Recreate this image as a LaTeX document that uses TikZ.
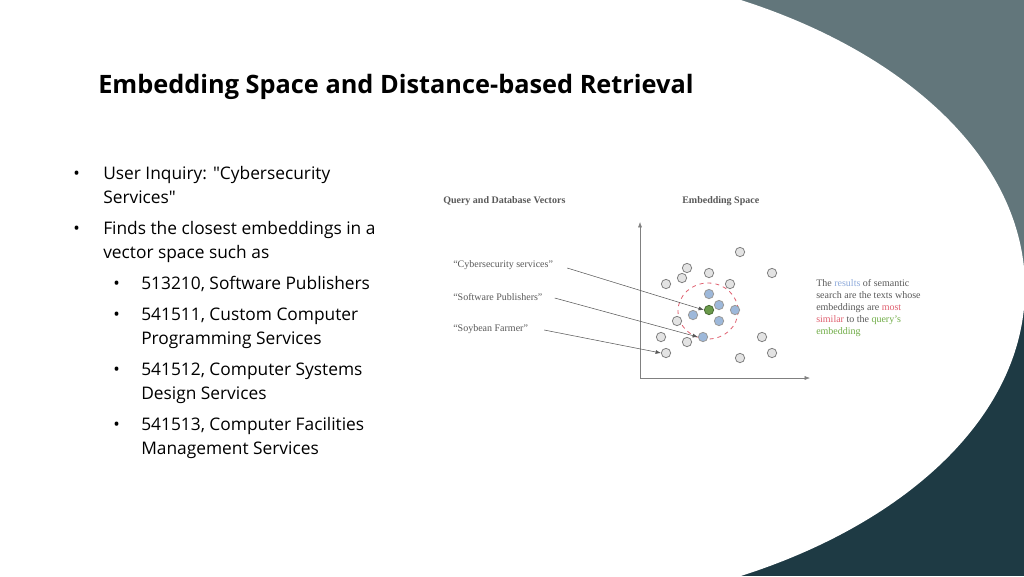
\documentclass[tikz,border=0pt]{standalone}
\usepackage{fontspec}
\setmainfont{Open Sans}
\newfontfamily\serifgr{Liberation Serif}
\usetikzlibrary{arrows.meta}
\definecolor{slate}{HTML}{62767B}
\definecolor{deepteal}{HTML}{1E3A44}
\definecolor{dotgrey}{HTML}{E3E3E3}
\definecolor{dotblue}{HTML}{9DB8DA}
\definecolor{dotgreen}{HTML}{6A9A4A}
\definecolor{txtgrey}{HTML}{595959}
\definecolor{resblue}{HTML}{8EAADB}
\definecolor{simred}{HTML}{E06070}
\definecolor{qgreen}{HTML}{70AD47}

\begin{document}
\begin{tikzpicture}
    [
    x=0.75pt, y=-0.75pt,
    pt/.style={circle,draw=gray,fill=dotgrey,inner sep=0pt,minimum size=7pt,line width=0.6pt},
    res/.style={pt,fill=dotblue,draw=gray!80},
    qry/.style={pt,fill=dotgreen,draw=dotgreen!70!black},
    lbl/.style={font=\serifgr\fontsize{7.5}{9}\selectfont,text=txtgrey,anchor=west,inner sep=0pt},
    hdr/.style={font=\serifgr\bfseries\fontsize{7.5}{9}\selectfont,text=txtgrey,anchor=west,inner sep=0pt},
    body/.style={font=\fontsize{13}{18}\selectfont,anchor=base west,inner sep=0pt},
    ]
    \useasboundingbox (0,0) rectangle (1024,576);
    % background
    \fill[slate] (690,0) rectangle (1024,300);
    \fill[deepteal] (690,300) rectangle (1024,576);
    \fill[white] (500,288) ellipse [x radius=525, y radius=324];

    % title and bullets
    \node (title) [anchor=base west,inner sep=0pt,font=\bfseries\fontsize{19}{22}\selectfont] at (98,93) {Embedding Space and Distance-based Retrieval};
    \node (b1) [body] at (73,179) {\textbullet};
    \node (t1) [body] at (103,179) {User Inquiry: \textquotedbl Cybersecurity};
    \node (t1b) [body] at (103,203) {Services\textquotedbl};
    \node (b2) [body] at (73,234) {\textbullet};
    \node (t2) [body] at (103,234) {Finds the closest embeddings in a};
    \node (t2b) [body] at (103,258) {vector space such as};
    \foreach \y/\a/\b [count=\i] in {289/{513210, Software Publishers}/{},
      320/{541511, Custom Computer}/{Programming Services},
      375/{541512, Computer Systems}/{Design Services},
      430/{541513, Computer Facilities}/{Management Services}} {
      \node (s\i) [body] at (113,\y) {\textbullet};
      \node (st\i) [body] at (141,\y) {\a};
      \node (su\i) [body] at (141,\y+24) {\b};
    }

    % diagram
    \node (hq) [hdr] at (443,201) {Query and Database Vectors};
    \node (he) [hdr] at (682,201) {Embedding Space};
    \coordinate (o) at (640,378);
    \coordinate (ytop) at (640,222);
    \coordinate (xend) at (810,378);
    \draw [gray, -{Latex[length=4pt]}] (o) to (ytop);
    \draw [gray, -{Latex[length=4pt]}] (o) to (xend);
    \draw [simred, dashed, line width=0.6pt] (708,311) ellipse [x radius=30, y radius=28];

    \foreach \x/\y [count=\i] in {740/252,687/268,709/273,772/273,682/278,666/284,730/284,
      677/321,661/337,687/342,762/337,666/353,740/358,772/353}
      \node (g\i) [pt] at (\x,\y) {};
    \foreach \x/\y [count=\i] in {709/294,719/305,693/315,735/310,719/321,703/337}
      \node (r\i) [res] at (\x,\y) {};
    \node (q) [qry] at (709,310) {};

    \node (cyber) [lbl] at (453,265) {“Cybersecurity services”};
    \node (soft) [lbl] at (453,297) {“Software Publishers”};
    \node (soy) [lbl] at (453,329) {“Soybean Farmer”};
    \draw [txtgrey, -{Latex[length=4pt]}] (cyber.east) ++(14,3) to (q.west);
    \draw [txtgrey, -{Latex[length=4pt]}] (soft.east) ++(12,1) to (r6.west);
    \draw [txtgrey, -{Latex[length=4pt]}] (soy.east) ++(16,1) to (g12.west);

    \node (note) [lbl, anchor=north west, align=left] at (816,279) {The \textcolor{resblue}{results} of semantic\\
      search are the texts whose\\
      embeddings are \textcolor{simred}{most}\\
      \textcolor{simred}{similar} to the \textcolor{qgreen}{query’s}\\
      \textcolor{qgreen}{embedding}};
\end{tikzpicture}
\end{document}
